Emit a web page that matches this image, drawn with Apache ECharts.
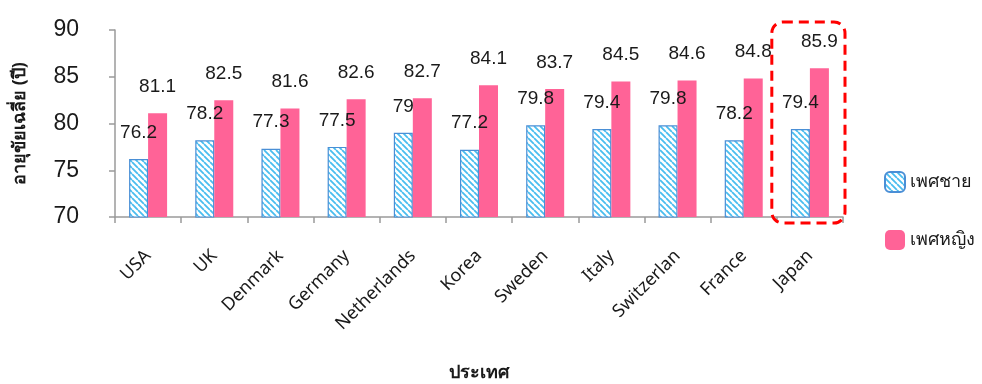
<!DOCTYPE html>
<html>
<head>
<meta charset="utf-8">
<script src="https://cdn.jsdelivr.net/npm/echarts@6/dist/echarts.min.js"></script>
<style>
  html, body { margin: 0; padding: 0; background: #fff; }
  #chart { width: 982px; height: 384px; }
</style>
</head>
<body>
<div id="chart"></div>
<script>
// Life expectancy by country and sex
const countries = ['USA', 'UK', 'Denmark', 'Germany', 'Netherlands', 'Korea', 'Sweden', 'Italy', 'Switzerlan', 'France', 'Japan'];
const maleValues = [76.2, 78.2, 77.3, 77.5, 79, 77.2, 79.8, 79.4, 79.8, 78.2, 79.4];
const femaleValues = [81.1, 82.5, 81.6, 82.6, 82.7, 84.1, 83.7, 84.5, 84.6, 84.8, 85.9];
const yTicks = { min: 70, max: 90, interval: 5 };
const highlightCountry = 'Japan';

// Diagonal hatch fill for the male series
function makeHatch() {
  const size = 6;
  const c = document.createElement('canvas');
  c.width = size; c.height = size;
  const ctx = c.getContext('2d');
  ctx.fillStyle = '#ffffff';
  ctx.fillRect(0, 0, size, size);
  ctx.strokeStyle = '#49bdef';
  ctx.lineWidth = 1.8;
  ctx.beginPath();
  for (let k = -size; k <= size * 2; k += size) {
    ctx.moveTo(k, 0);
    ctx.lineTo(k + size, size);
  }
  ctx.stroke();
  return c;
}

const hatch = { image: makeHatch(), repeat: 'repeat' };
const fontMain = '"Liberation Sans", Arial, sans-serif';
const fontThai = '"Noto Sans", "DejaVu Sans", sans-serif';

const chart = echarts.init(document.getElementById('chart'), null, { renderer: 'canvas' });

const labelStyle = {
  show: true,
  position: 'top',
  distance: 17,
  fontSize: 19,
  color: '#1a1a1a',
  fontFamily: fontMain
};

chart.setOption({
  animation: false,
  backgroundColor: '#ffffff',
  grid: { left: 115, right: 139, top: 30, bottom: 167, containLabel: false, outerBoundsMode: 'none' },
  legend: {
    orient: 'vertical',
    left: 879,
    top: 166,
    itemWidth: 20,
    itemHeight: 20,
    itemGap: 37,
    textStyle: { fontSize: 18, color: '#1a1a1a', fontFamily: fontThai },
    data: ['เพศชาย', 'เพศหญิง']
  },
  xAxis: {
    type: 'category',
    data: countries,
    name: 'ประเทศ',
    nameLocation: 'middle',
    nameGap: 147,
    nameTextStyle: { fontSize: 18, fontWeight: 'bold', color: '#1a1a1a', fontFamily: fontThai },
    axisLine: { lineStyle: { color: '#9a9a9a', width: 1.5 } },
    axisTick: { show: true, length: 6, alignWithLabel: false, lineStyle: { color: '#9a9a9a', width: 1.5 } },
    axisLabel: { rotate: 45, fontSize: 18, margin: 36, color: '#1a1a1a', fontFamily: fontThai, interval: 0 }
  },
  yAxis: {
    type: 'value',
    min: yTicks.min,
    max: yTicks.max,
    interval: yTicks.interval,
    name: 'อายุขัยเฉลี่ย (ปี)',
    nameLocation: 'middle',
    nameGap: 86,
    nameTextStyle: { fontSize: 18, fontWeight: 'bold', color: '#1a1a1a', fontFamily: fontThai },
    axisLine: { show: true, lineStyle: { color: '#9a9a9a', width: 1.5 } },
    axisTick: { show: true, length: 6, lineStyle: { color: '#9a9a9a', width: 1.5 } },
    splitLine: { show: false },
    axisLabel: { fontSize: 23, margin: 36, color: '#1a1a1a', fontFamily: fontMain }
  },
  series: [
    {
      name: 'เพศชาย',
      type: 'bar',
      data: maleValues,
      barWidth: 19,
      barGap: '0%',
      itemStyle: { color: hatch, borderColor: '#4a8fd6', borderWidth: 1.2 },
      label: labelStyle
    },
    {
      name: 'เพศหญิง',
      type: 'bar',
      data: femaleValues,
      barWidth: 19,
      itemStyle: { color: '#ff6397' },
      label: labelStyle
    }
  ]
});

// Rounded dashed frame highlighting one country, placed via the axis scales
function drawHighlight() {
  const idx = countries.indexOf(highlightCountry);
  const center = chart.convertToPixel({ xAxisIndex: 0 }, idx);
  const step = chart.convertToPixel({ xAxisIndex: 0 }, 1) - chart.convertToPixel({ xAxisIndex: 0 }, 0);
  const yTop = chart.convertToPixel({ yAxisIndex: 0 }, yTicks.max);
  const yBottom = chart.convertToPixel({ yAxisIndex: 0 }, yTicks.min);
  const x0 = center - step / 2 - 5;
  const x1 = center + step / 2 + 2;
  chart.setOption({
    graphic: [{
      type: 'rect',
      shape: { x: x0, y: yTop - 8, width: x1 - x0, height: yBottom - yTop + 14, r: 11 },
      style: { fill: 'none', stroke: '#ff0000', lineWidth: 3, lineDash: [10, 6] },
      z: 10
    }]
  });
}
drawHighlight();
</script>
</body>
</html>
